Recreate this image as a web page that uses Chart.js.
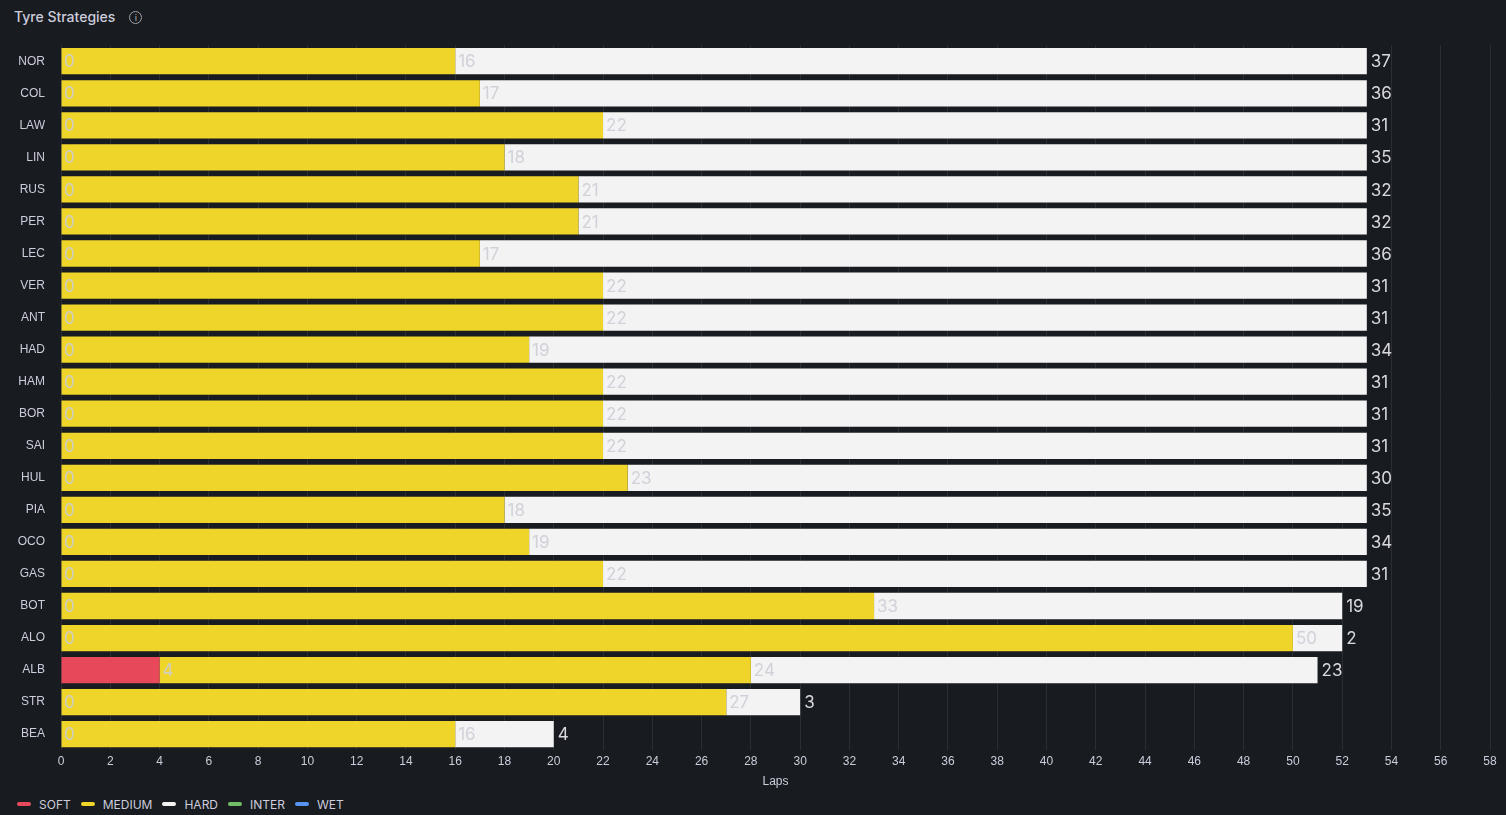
<!DOCTYPE html>
<html>
<head>
<meta charset="utf-8">
<script src="https://cdn.jsdelivr.net/npm/chart.js@4/dist/chart.umd.min.js"></script>
<style>
  body { margin: 0; background: #181b1f; font-family: Inter, "Noto Sans", sans-serif; overflow: hidden; }
  #title { position: absolute; left: 14px; top: 8px; color: #ccccdc; font-size: 14px; font-weight: 500; }
  #title span { display: inline-block; margin-left: 14px; width: 11px; height: 11px; border: 1.3px solid #9fa1a8; border-radius: 50%; font-size: 9px; line-height: 11px; text-align: center; color: #9fa1a8; vertical-align: 1px; }
  #wrap { position: absolute; left: 0; top: 30px; width: 1506px; height: 763px; }
  #legend { position: absolute; left: 17px; top: 797px; font-size: 12px; color: #ccccdc; }
  #legend i { display: inline-block; width: 14px; height: 4px; border-radius: 2px; margin-right: 8px; vertical-align: 3px; }
  #legend b { font-weight: normal; margin-right: 10px; }
</style>
</head>
<body>
<div id="title">Tyre Strategies<span>i</span></div>
<div id="wrap"><canvas id="c"></canvas></div>
<div id="legend"></div>
<script>
const drivers = ['NOR','COL','LAW','LIN','RUS','PER','LEC','VER','ANT','HAD','HAM','BOR','SAI','HUL','PIA','OCO','GAS','BOT','ALO','ALB','STR','BEA'];
const soft   = [0,0,0,0,0,0,0,0,0,0,0,0,0,0,0,0,0,0,0,4,0,0];
const medium = [16,17,22,18,21,21,17,22,22,19,22,22,22,23,18,19,22,33,50,24,27,16];
const hard   = [37,36,31,35,32,32,36,31,31,34,31,31,31,30,35,34,31,19,2,23,3,4];
const inter  = drivers.map(() => 0);
const wet    = drivers.map(() => 0);
const compounds = ['SOFT','MEDIUM','HARD','INTER','WET'];
const colors = ['#e8495a','#efd42a','#f3f3f3','#73bf69','#5794f2'];

document.getElementById('legend').innerHTML = compounds.map((n, i) =>
  '<i style="background:' + colors[i] + '"></i><b>' + n + '</b>').join('');

const series = [soft, medium, hard, inter, wet];

const stintLabels = {
  id: 'stintLabels',
  afterDatasetsDraw(chart) {
    const ctx = chart.ctx;
    const xs = chart.scales.x;
    ctx.save();
    ctx.textBaseline = 'middle';
    ctx.font = '17px Inter, sans-serif';
    drivers.forEach((d, i) => {
      const y = chart.getDatasetMeta(0).data[i].y;
      let start = 0, prev = 0, first = true;
      series.forEach(s => {
        const v = s[i];
        if (!v) return;
        if (!(first && s === soft)) {
          ctx.fillStyle = 'rgba(205,205,215,0.9)';
          ctx.textAlign = 'left';
          ctx.fillText(String(prev), xs.getPixelForValue(start) + 3, y + 1);
        }
        first = false;
        prev = v;
        start += v;
      });
      ctx.fillStyle = '#d8d9de';
      ctx.fillText(String(prev), xs.getPixelForValue(start) + 4, y + 1);
    });
    ctx.restore();
  }
};

new Chart(document.getElementById('c'), {
  type: 'bar',
  data: {
    labels: drivers,
    datasets: compounds.map((n, i) => ({
      label: n, data: series[i], backgroundColor: colors[i],
      borderWidth: 0, barPercentage: 1, categoryPercentage: 0.82
    }))
  },
  options: {
    indexAxis: 'y',
    responsive: true,
    maintainAspectRatio: false,
    animation: false,
    layout: { padding: { top: 3, right: 16, bottom: 0, left: 0 } },
    plugins: { legend: { display: false }, tooltip: { enabled: false } },
    scales: {
      x: {
        stacked: true, min: 0, max: 58,
        ticks: { stepSize: 2, color: '#ccccdc', font: { size: 12 }, padding: 4 },
        grid: { color: '#2a2d33', drawTicks: false },
        border: { display: false },
        title: { display: true, text: 'Laps', color: '#ccccdc', font: { size: 12 }, padding: { top: 2 } }
      },
      y: {
        stacked: true,
        afterFit(s) { s.width = 61; },
        ticks: { color: '#ccccdc', font: { size: 12 }, padding: 8 },
        grid: { display: false },
        border: { display: false }
      }
    }
  },
  plugins: [stintLabels]
});
</script>
</body>
</html>
